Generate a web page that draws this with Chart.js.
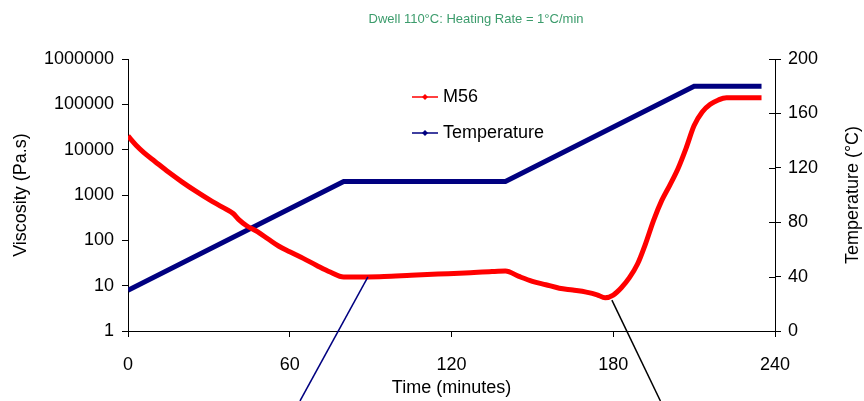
<!DOCTYPE html>
<html>
<head>
<meta charset="utf-8">
<script src="https://cdn.jsdelivr.net/npm/chart.js@4/dist/chart.umd.min.js"></script>
<style>
  html, body { margin: 0; padding: 0; background: #fff; }
  #wrap { width: 864px; height: 401px; }
</style>
</head>
<body>
<div id="wrap"><canvas id="chart" width="864" height="401"></canvas></div>
<script>
// chart values
const chartTitle = 'Dwell 110°C: Heating Rate = 1°C/min';
const tempAxisTitle = 'Temperature (°C)';

// viscosity of M56 (Pa.s) against time (minutes)
const m56Time = [0, 3, 6, 10, 15, 20, 25, 30, 35, 39, 41, 44, 48, 52, 56, 60, 65, 70, 75, 80,
  86, 95, 105, 115, 125, 135, 140, 145, 150, 155, 160, 165, 170, 174, 177, 180, 183, 186, 189,
  192, 195, 198, 201, 204, 207, 210, 213, 216, 219, 222, 226, 230, 235];
const m56Visc = [20000, 12500, 8500, 5500, 3200, 1950, 1230, 800, 540, 390, 290, 210, 155, 107, 74, 56, 40, 28, 20, 15.5,
  15.6, 16, 17, 18, 19, 20.5, 21, 16, 12.5, 10.5, 8.8, 8, 7.2, 6.3, 5.4, 6.2, 9, 15, 30,
  85, 280, 760, 1660, 3800, 10700, 34000, 68000, 100000, 125000, 140000, 140000, 140000, 140000];

// oven temperature (°C) program
const tempTime = [0, 80, 140, 210, 235];
const tempValue = [30, 110, 110, 180, 180];

// axis ticks
const timeTicks = [0, 60, 120, 180, 240];
const viscTicks = [1, 10, 100, 1000, 10000, 100000, 1000000];
const tempTicks = [0, 40, 80, 120, 160, 200];

// callout lines (time, viscosity) start and end, running off the bottom
const calloutStart = [[89, 15.6], [179.5, 4.8]];
const calloutEnd = [[63.8, 0.0286], [197.5, 0.0286]];
const calloutColor = ['#000080', '#000000'];

const FONT = "'Liberation Sans', Arial, sans-serif";

const m56Points = m56Time.map((t, i) => ({ x: t, y: m56Visc[i] }));
const tempPoints = tempTime.map((t, i) => ({ x: t, y: tempValue[i] }));

// legend drawn inside the plot
const insideLegend = {
  id: 'insideLegend',
  afterDraw(chart) {
    const ctx = chart.ctx;
    const rows = [97, 133];
    ctx.save();
    chart.data.datasets.forEach((ds, i) => {
      const y = rows[i];
      ctx.strokeStyle = ds.borderColor;
      ctx.lineWidth = 1.5;
      ctx.beginPath();
      ctx.moveTo(412, y);
      ctx.lineTo(438, y);
      ctx.stroke();
      ctx.fillStyle = ds.borderColor;
      ctx.beginPath();
      ctx.moveTo(425, y - 3);
      ctx.lineTo(428, y);
      ctx.lineTo(425, y + 3);
      ctx.lineTo(422, y);
      ctx.closePath();
      ctx.fill();
      ctx.fillStyle = '#000';
      ctx.font = '18px ' + FONT;
      ctx.textBaseline = 'middle';
      ctx.textAlign = 'left';
      ctx.fillText(ds.label, 443, y);
    });
    ctx.restore();
  }
};

// title, right axis title and callouts
const extras = {
  id: 'extras',
  afterDraw(chart) {
    const ctx = chart.ctx;
    const xs = chart.scales.x, ys = chart.scales.y, y1 = chart.scales.y1;
    ctx.save();
    ctx.fillStyle = '#3c9c6c';
    ctx.font = "13px 'Liberation Sans Narrow', " + FONT;
    ctx.textAlign = 'center';
    ctx.textBaseline = 'middle';
    ctx.fillText(chartTitle, 476, 19);

    // right axis title reads bottom to top
    ctx.save();
    ctx.translate(853, (y1.top + y1.bottom) / 2);
    ctx.rotate(-Math.PI / 2);
    ctx.fillStyle = '#000';
    ctx.font = '18px ' + FONT;
    ctx.fillText(tempAxisTitle, 0, 0);
    ctx.restore();

    calloutStart.forEach((p, i) => {
      const q = calloutEnd[i];
      ctx.strokeStyle = calloutColor[i];
      ctx.lineWidth = 1.5;
      ctx.beginPath();
      ctx.moveTo(xs.getPixelForValue(p[0]), ys.getPixelForValue(p[1]));
      ctx.lineTo(xs.getPixelForValue(q[0]), ys.getPixelForValue(q[1]));
      ctx.stroke();
    });

    // right axis ticks cross the axis line
    ctx.strokeStyle = '#000';
    ctx.lineWidth = 1;
    tempTicks.forEach(v => {
      const py = Math.round(y1.getPixelForValue(v)) + 0.5;
      ctx.beginPath();
      ctx.moveTo(y1.left - 6, py);
      ctx.lineTo(y1.left, py);
      ctx.stroke();
    });
    ctx.restore();
  }
};

new Chart(document.getElementById('chart'), {
  type: 'line',
  data: {
    datasets: [
      {
        label: 'M56',
        data: m56Points,
        yAxisID: 'y',
        borderColor: '#ff0000',
        backgroundColor: '#ff0000',
        borderWidth: 5,
        pointRadius: 0,
        cubicInterpolationMode: 'monotone'
      },
      {
        label: 'Temperature',
        data: tempPoints,
        yAxisID: 'y1',
        borderColor: '#000080',
        backgroundColor: '#000080',
        borderWidth: 5,
        pointRadius: 0
      }
    ]
  },
  options: {
    responsive: false,
    animation: false,
    layout: { padding: { top: 59, left: 0, right: 0, bottom: 0 } },
    plugins: {
      legend: { display: false },
      title: { display: false },
      tooltip: { enabled: false }
    },
    scales: {
      x: {
        type: 'linear',
        min: 0,
        max: 240,
        afterFit: s => { s.height = 70; },
        afterBuildTicks: s => { s.ticks = timeTicks.map(v => ({ value: v })); },
        border: { color: '#000', width: 1 },
        grid: { drawOnChartArea: false, color: '#000', tickLength: 6 },
        ticks: { color: '#000', padding: 17, font: { family: FONT, size: 18 }, maxRotation: 0 },
        title: { display: true, text: 'Time (minutes)', color: '#000', padding: { top: 0, bottom: 2 }, font: { family: FONT, size: 18 } }
      },
      y: {
        type: 'logarithmic',
        position: 'left',
        min: 1,
        max: 1000000,
        afterFit: s => { s.width = 128; },
        afterBuildTicks: s => { s.ticks = viscTicks.map(v => ({ value: v })); },
        border: { color: '#000', width: 1 },
        grid: { drawOnChartArea: false, color: '#000', tickLength: 6 },
        ticks: { color: '#000', padding: 8, font: { family: FONT, size: 18 }, callback: v => String(v) },
        title: { display: true, text: 'Viscosity (Pa.s)', color: '#000', padding: { top: 10, bottom: 0 }, font: { family: FONT, size: 18 } }
      },
      y1: {
        type: 'linear',
        position: 'right',
        min: 0,
        max: 200,
        afterFit: s => { s.width = 89; },
        afterBuildTicks: s => { s.ticks = tempTicks.map(v => ({ value: v })); },
        border: { color: '#000', width: 1 },
        grid: { drawOnChartArea: false, color: '#000', tickLength: 6 },
        ticks: { color: '#000', padding: 7, font: { family: FONT, size: 18 } },
        title: { display: false }
      }
    }
  },
  plugins: [insideLegend, extras]
});
</script>
</body>
</html>
